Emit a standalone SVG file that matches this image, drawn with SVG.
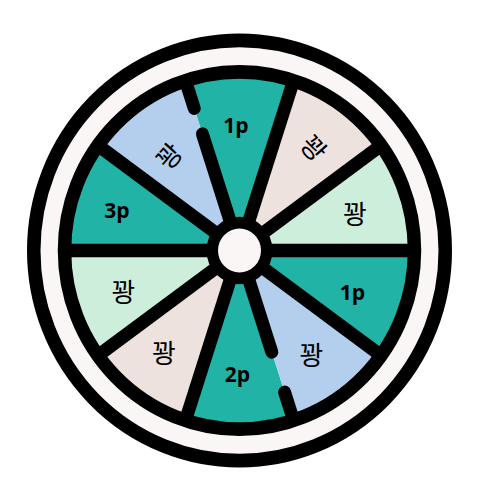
<svg xmlns="http://www.w3.org/2000/svg" width="477" height="502" viewBox="0 0 477 502">
<style>
.teal{fill:#21B3A6}
.blue{fill:#B3CFED}
.beige{fill:#EDE2DD}
.green{fill:#CEEEDC}
.spoke{stroke:#000;stroke-width:13;fill:none;stroke-linecap:butt}
.dash{stroke:#000;stroke-width:13;fill:none;stroke-linecap:round}
.kw{font-family:"Noto Sans CJK KR","Noto Sans",sans-serif;font-size:26px;fill:#000;text-anchor:middle;dominant-baseline:central}
.pt{font-family:"Open Sans","Noto Sans",sans-serif;font-weight:700;font-size:21px;fill:#000;text-anchor:middle}
</style>
<rect width="477" height="502" fill="#fff"/>
<g id="rim" transform="translate(239.5 250.5) scale(1 1.021)">
<circle r="205.75" fill="#FAF6F5" stroke="#000" stroke-width="13.5"/>
</g>
<g id="seg-r-up">
<path class="green" transform="translate(239.5 250.5) scale(1 1.021)" d="M0 0L175 0A175 175 0 0 0 141.578 -102.862Z"/>
<text class="kw" x="355" y="212">꽝</text>
</g>
<g id="seg-beige-up">
<path class="beige" transform="translate(239.5 250.5) scale(1 1.021)" d="M0 0L141.578 -102.862A175 175 0 0 0 54.078 -166.435Z"/>
<text class="kw" transform="translate(315 147) rotate(48)">꽝</text>
</g>
<g id="seg-top">
<path class="teal" transform="translate(239.5 250.5) scale(1 1.021)" d="M0 0L54.078 -166.435A175 175 0 0 0 -54.078 -166.435Z"/>
<text class="pt" x="236" y="133">1p</text>
</g>
<g id="seg-blue-up">
<path class="blue" transform="translate(239.5 250.5) scale(1 1.021)" d="M0 0L-54.078 -166.435A175 175 0 0 0 -141.578 -102.862Z"/>
<text class="kw" transform="translate(168 155) rotate(-48)">꽝</text>
</g>
<g id="seg-3p">
<path class="teal" transform="translate(239.5 250.5) scale(1 1.021)" d="M0 0L-141.578 -102.862A175 175 0 0 0 -175 0Z"/>
<text class="pt" x="117" y="218">3p</text>
</g>
<g id="seg-l-low">
<path class="green" transform="translate(239.5 250.5) scale(1 1.021)" d="M0 0L-175 0A175 175 0 0 0 -141.578 102.862Z"/>
<text class="kw" x="123.5" y="290">꽝</text>
</g>
<g id="seg-beige-low">
<path class="beige" transform="translate(239.5 250.5) scale(1 1.021)" d="M0 0L-141.578 102.862A175 175 0 0 0 -54.078 166.435Z"/>
<text class="kw" x="164" y="351.5">꽝</text>
</g>
<g id="seg-2p">
<path class="teal" transform="translate(239.5 250.5) scale(1 1.021)" d="M0 0L-54.078 166.435A175 175 0 0 0 54.078 166.435Z"/>
<text class="pt" x="237.5" y="382">2p</text>
</g>
<g id="seg-blue-low">
<path class="blue" transform="translate(239.5 250.5) scale(1 1.021)" d="M0 0L54.078 166.435A175 175 0 0 0 141.578 102.862Z"/>
<text class="kw" x="311.5" y="353.5">꽝</text>
</g>
<g id="seg-1p-right">
<path class="teal" transform="translate(239.5 250.5) scale(1 1.021)" d="M0 0L141.578 102.862A175 175 0 0 0 175 0Z"/>
<text class="pt" x="352.5" y="300">1p</text>
</g>
<g id="connectors" transform="translate(239.5 250.5) scale(1 1.021)">
<line class="spoke" x1="-175" y1="0" x2="175" y2="0" stroke-width="20"/>
<line class="spoke" x1="0" y1="0" x2="141.578" y2="-102.862"/>
<line class="spoke" x1="0" y1="0" x2="54.078" y2="-166.435"/>
<line class="spoke" x1="0" y1="0" x2="-141.578" y2="-102.862"/>
<line class="spoke" x1="0" y1="0" x2="-141.578" y2="102.862"/>
<line class="spoke" x1="0" y1="0" x2="-54.078" y2="166.435"/>
<line class="spoke" x1="0" y1="0" x2="141.578" y2="102.862"/>
<path class="dash" d="M0 0L-37.082 -114.127M-45.271 -139.330L-53.151 -163.582"/>
<path class="dash" d="M0 0L32.292 99.385M45.116 138.854L53.151 163.582"/>
<circle r="175" fill="none" stroke="#000" stroke-width="13.5"/>
</g>
<g id="hub" transform="translate(239.5 250.5) scale(1 1.021)">
<circle r="33" fill="#000"/>
<circle r="21.5" fill="#FAF6F5"/>
</g>
</svg>
